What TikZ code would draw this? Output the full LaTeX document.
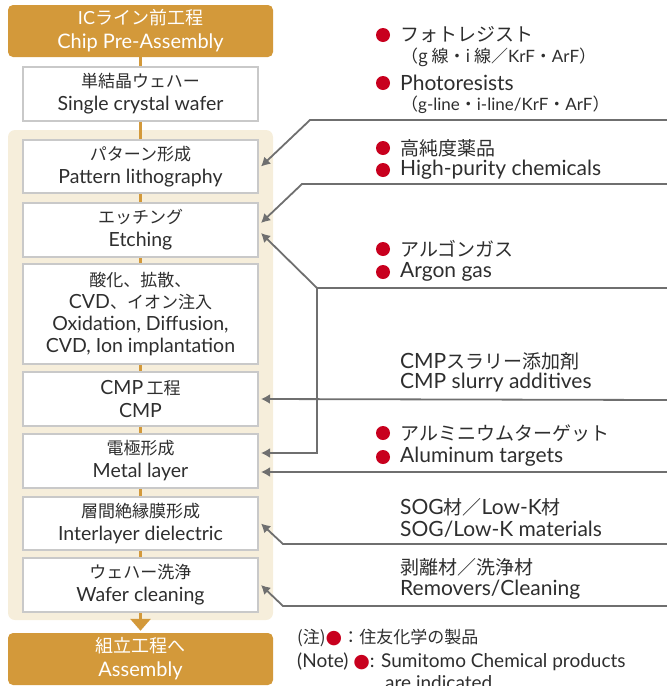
\documentclass[tikz,border=0pt]{standalone}
\usepackage{fontspec}
\setmainfont{Lato}
\newfontfamily\jp{Noto Sans CJK JP}
\newfontfamily\djv{DejaVu Sans}
\usetikzlibrary{arrows.meta}
\definecolor{gold}{HTML}{D3993A}
\definecolor{panel}{HTML}{F6EEDB}
\definecolor{boxline}{HTML}{C9C9C9}
\definecolor{arrgray}{HTML}{6F6F6F}
\definecolor{dotred}{HTML}{C8001E}
\definecolor{txt}{HTML}{2E2E2E}
\newcommand\J[1]{{\jp #1}}
\newcommand\JS[1]{{\fontsize{17}{23}\selectfont\jp #1}}
\newcommand\JR[1]{{\fontsize{19}{22}\selectfont\jp #1}}
\begin{document}
\begin{tikzpicture}[x=1pt,y=-1pt,
  stepbox/.style={draw=boxline, line width=2pt, fill=white, minimum width=235pt, align=center, text=txt, inner sep=0pt, font=\fontsize{19.5}{23}\selectfont},
  goldbox/.style={fill=gold, rounded corners=5pt, minimum width=265pt, minimum height=52pt, align=center, text=white, inner sep=0pt, font=\fontsize{20}{24}\selectfont},
  feed/.style={draw=arrgray, line width=1.8pt, -{Latex[length=9pt,width=10pt]}},
  rtext/.style={anchor=west, text=txt, inner sep=0pt, font=\fontsize{21}{22}\selectfont},
  bullet/.style={circle, fill=dotred, minimum size=14pt, inner sep=0pt},
  notetext/.style={anchor=west, text=txt, inner sep=0pt, font=\fontsize{19}{22}\selectfont}]
\useasboundingbox (0,0) rectangle (667,686);
% panel
\fill[panel, rounded corners=7pt] (8,130) rectangle (273,620);
% gold boxes
\node[goldbox] (top) at (140.5,31) {{\fontsize{18}{24}\selectfont IC\jp ライン前工程}\\Chip Pre-Assembly};
\node[goldbox] (asm) at (140.5,659) {{\fontsize{18}{24}\selectfont\jp 組立工程へ}\\Assembly};
% flow line
\draw[gold, line width=3pt, -{Triangle[width=20pt,length=12pt]}, shorten >=2pt] (top.south) -- (asm.north);
% step boxes
\node[stepbox, minimum height=54pt] (wafer) at (140.5,94) {\JS{単結晶ウェハー}\\Single crystal wafer};
\node[stepbox, minimum height=53pt] (pat) at (140.5,166.5) {\JS{パターン形成}\\Pattern lithography};
\node[stepbox, minimum height=54pt] (etch) at (140.5,230) {\JS{エッチング}\\Etching};
\node[stepbox, minimum height=100pt, font=\fontsize{19.5}{22}\selectfont] (oxi) at (140.5,314) {\JS{酸化、拡散、}\\CVD\JS{、イオン注入}\\Oxidation, Diffusion,\\CVD, Ion implantation};
\node[stepbox, minimum height=54pt] (cmp) at (140.5,399) {CMP\,\JS{工程}\\CMP};
\node[stepbox, minimum height=54pt] (metal) at (140.5,461) {\JS{電極形成}\\Metal layer};
\node[stepbox, minimum height=53pt] (ild) at (140.5,523.5) {\JS{層間絶縁膜形成}\\Interlayer dielectric};
\node[stepbox, minimum height=54pt] (clean) at (140.5,585) {\JS{ウェハー洗浄}\\Wafer cleaning};
% feed start coordinates
\coordinate (r1) at (667,120);
\coordinate (r2) at (667,184);
\coordinate (r3) at (667,288);
\coordinate (r4) at (667,400);
\coordinate (r5) at (667,472);
\coordinate (r6) at (667,544);
\coordinate (r7) at (667,606);
% feeds
\draw[feed] (r1) -- (310,120) -- ([xshift=2pt]pat.east);
\draw[feed] (r2) -- (302,184) -- ([xshift=2pt,yshift=7pt]etch.east);
\draw[feed] (r3) -- (317,288) -- ([xshift=2pt,yshift=-3pt]etch.east);
\draw[feed] (317,288) -- (317,453) -- ([xshift=2pt,yshift=8pt]metal.east);
\draw[feed] (r4) -- ([xshift=2pt]cmp.east);
\draw[feed] (r5) -- ([xshift=2pt,yshift=-11pt]metal.east);
\draw[feed] (r6) -- (283,544) -- ([xshift=2pt]ild.east);
\draw[feed] (r7) -- (283,606) -- ([xshift=2pt]clean.east);
% right texts
\node[bullet] (b1) at (383,35) {};
\node[rtext] (t1) at (400,35) {\JR{フォトレジスト}};
\node[rtext, font=\fontsize{17}{20}\selectfont] (t1b) at (401,57) {\J{（g 線・i 線／}KrF\J{・}ArF\J{）}};
\node[bullet] (b2) at (383,83) {};
\node[rtext] (t2) at (400,83) {Photoresists};
\node[rtext, font=\fontsize{17}{20}\selectfont] (t2b) at (401,105) {\J{（}g-line\J{・}i-line/KrF\J{・}ArF\J{）}};
\node[bullet] (b3) at (383,148) {};
\node[rtext] (t3) at (400,148) {\JR{高純度薬品}};
\node[bullet] (b4) at (383,170) {};
\node[rtext] (t4) at (400,170) {High-purity chemicals};
\node[bullet] (b5) at (383,249) {};
\node[rtext] (t5) at (400,249) {\JR{アルゴンガス}};
\node[bullet] (b6) at (383,272) {};
\node[rtext] (t6) at (400,272) {Argon gas};
\node[rtext] (t7) at (400,361) {CMP\JR{スラリー添加剤}};
\node[rtext] (t8) at (400,383) {CMP slurry additives};
\node[bullet] (b9) at (383,433) {};
\node[rtext] (t9) at (400,433) {\JR{アルミニウムターゲット}};
\node[bullet] (b10) at (383,457) {};
\node[rtext] (t10) at (400,457) {Aluminum targets};
\node[rtext] (t11) at (400,507) {SOG\JR{材／}Low-K\JR{材}};
\node[rtext] (t12) at (400,529) {SOG/Low-K materials};
\node[rtext] (t13) at (400,567) {\JR{剥離材／洗浄材}};
\node[rtext] (t14) at (400,590) {Removers/Cleaning};
% note
\node[notetext] (n1) at (297,638) {{\fontsize{17}{22}\selectfont\jp (注)}\textcolor{dotred}{\djv ●}{\fontsize{17}{22}\selectfont\jp ：住友化学の製品}};
\node[notetext] (n2) at (297,662) {(Note) \textcolor{dotred}{\djv ●}: Sumitomo Chemical products};
\node[notetext] (n3) at (385,683) {are indicated};
\end{tikzpicture}
\end{document}
